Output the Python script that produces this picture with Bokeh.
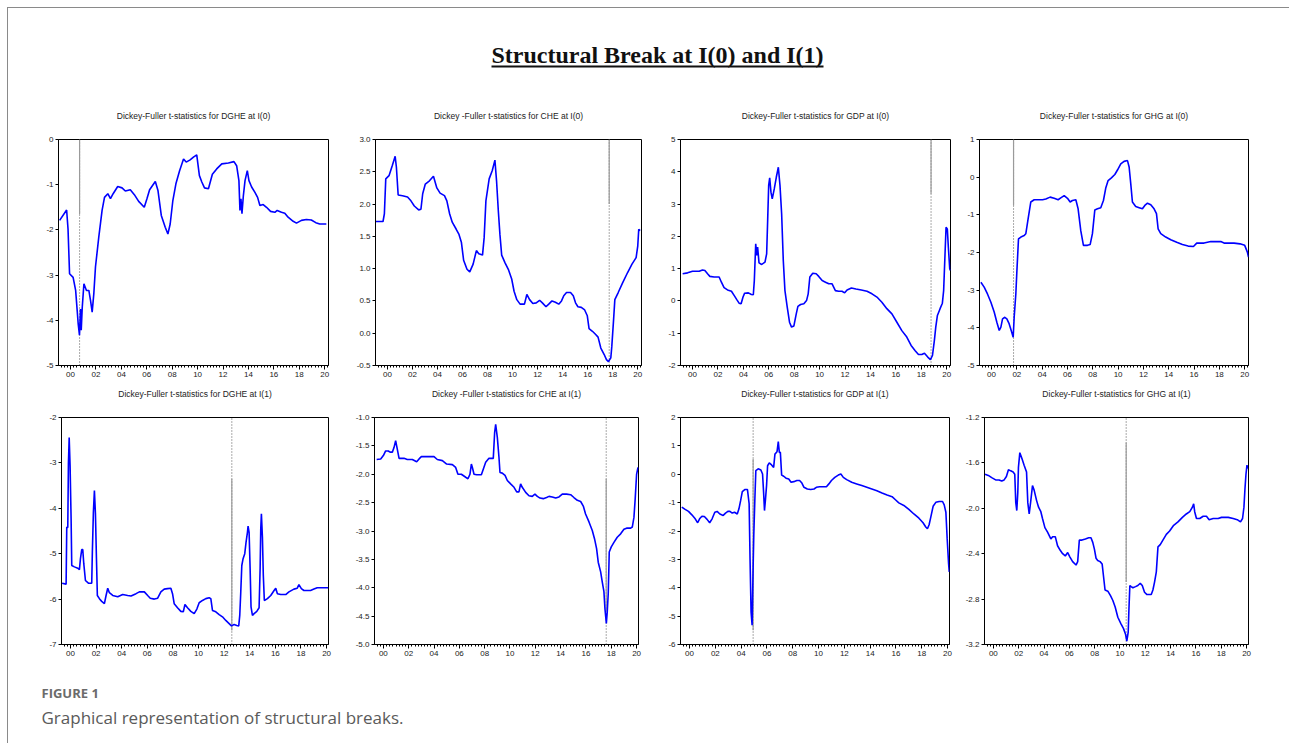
from bokeh.plotting import figure
from bokeh.layouts import column, row
from bokeh.models import Range1d, FixedTicker, PrintfTickFormatter, CustomJSTickFormatter
from bokeh.embed import file_html
from bokeh.resources import INLINE
from bokeh.core.properties import value
import numpy as np

# ---------------- data (year, t-statistic) ----------------
dghe_i0 = [(1999.14, -1.79), (1999.69, -1.56), (1999.8, -1.98), (1999.92, -2.97), (2000.2, -3.05),
           (2000.4, -3.34), (2000.52, -3.78), (2000.6, -4.08), (2000.7, -4.33), (2000.78, -3.75),
           (2000.84, -4.22), (2000.92, -3.71), (2001.05, -3.19), (2001.25, -3.34), (2001.44, -3.34),
           (2001.57, -3.56), (2001.7, -3.82), (2001.83, -3.41), (2001.96, -2.82), (2002.22, -2.16),
           (2002.48, -1.57), (2002.67, -1.28), (2002.93, -1.2), (2003.14, -1.31), (2003.35, -1.2),
           (2003.71, -1.04), (2004.05, -1.07), (2004.31, -1.14), (2004.7, -1.11), (2005.02, -1.22),
           (2005.36, -1.37), (2005.8, -1.5), (2006.01, -1.31), (2006.22, -1.11), (2006.67, -0.93),
           (2006.88, -1.13), (2007.14, -1.68), (2007.45, -1.94), (2007.66, -2.09), (2007.84, -1.87),
           (2008.05, -1.35), (2008.29, -0.98), (2008.58, -0.69), (2008.89, -0.43), (2009.1, -0.5),
           (2009.41, -0.45), (2009.67, -0.39), (2009.93, -0.34), (2010.14, -0.8), (2010.33, -0.94),
           (2010.54, -1.07), (2010.85, -1.09), (2011.16, -0.77), (2011.5, -0.65), (2011.9, -0.54),
           (2012.42, -0.52), (2012.86, -0.49), (2013.07, -0.58), (2013.25, -0.91), (2013.33, -1.57),
           (2013.41, -1.31), (2013.49, -1.64), (2013.6, -1.24), (2013.73, -0.91), (2013.91, -0.69),
           (2014.04, -0.91), (2014.25, -1.05), (2014.51, -1.17), (2014.72, -1.28), (2014.9, -1.46),
           (2015.16, -1.44), (2015.42, -1.5), (2015.74, -1.59), (2016.08, -1.61), (2016.26, -1.57),
           (2016.6, -1.61), (2016.86, -1.63), (2017.12, -1.72), (2017.52, -1.81), (2017.78, -1.85),
           (2018.17, -1.79), (2018.56, -1.77), (2018.95, -1.78), (2019.3, -1.84), (2019.61, -1.87),
           (2020.13, -1.87)]

che_i0 = [(1999.01, 1.73), (1999.65, 1.73), (1999.76, 1.85), (1999.87, 2.39), (2000.13, 2.44),
          (2000.4, 2.6), (2000.62, 2.74), (2000.72, 2.57), (2000.86, 2.14), (2001.21, 2.13),
          (2001.61, 2.11), (2001.88, 2.05), (2002.15, 1.97), (2002.5, 1.91), (2002.68, 1.92),
          (2002.82, 2.16), (2003.03, 2.31), (2003.36, 2.36), (2003.68, 2.43), (2003.95, 2.25),
          (2004.21, 2.17), (2004.56, 2.13), (2004.75, 2.05), (2004.97, 1.85), (2005.18, 1.72),
          (2005.5, 1.61), (2005.72, 1.53), (2005.91, 1.41), (2006.09, 1.13), (2006.36, 0.99),
          (2006.58, 0.95), (2006.85, 1.07), (2007.11, 1.28), (2007.3, 1.23), (2007.6, 1.21),
          (2007.73, 1.48), (2007.87, 2.05), (2008.13, 2.39), (2008.38, 2.52), (2008.59, 2.68),
          (2008.72, 2.36), (2008.86, 1.9), (2008.99, 1.53), (2009.13, 1.21), (2009.4, 1.09),
          (2009.66, 0.99), (2009.93, 0.84), (2010.12, 0.65), (2010.34, 0.52), (2010.6, 0.45),
          (2010.95, 0.45), (2011.14, 0.6), (2011.36, 0.52), (2011.62, 0.46), (2011.89, 0.47),
          (2012.16, 0.51), (2012.38, 0.47), (2012.67, 0.41), (2012.89, 0.45), (2013.15, 0.5),
          (2013.42, 0.48), (2013.69, 0.45), (2013.91, 0.5), (2014.09, 0.58), (2014.31, 0.63),
          (2014.63, 0.63), (2014.85, 0.58), (2015.03, 0.47), (2015.22, 0.41), (2015.49, 0.4),
          (2015.76, 0.36), (2015.97, 0.27), (2016.11, 0.07), (2016.38, 0.03), (2016.64, -0.02),
          (2016.83, -0.06), (2017.05, -0.23), (2017.32, -0.33), (2017.5, -0.41), (2017.66, -0.44),
          (2017.85, -0.38), (2017.93, -0.2), (2018.07, 0.21), (2018.17, 0.52), (2018.44, 0.63),
          (2018.79, 0.78), (2019.19, 0.94), (2019.54, 1.07), (2019.87, 1.17), (2020.0, 1.35),
          (2020.08, 1.61), (2020.19, 1.59)]

gdp_i0 = [(1999.22, 0.84), (1999.61, 0.87), (2000.0, 0.92), (2000.52, 0.92), (2000.78, 0.96),
          (2000.97, 0.94), (2001.18, 0.84), (2001.36, 0.76), (2001.7, 0.74), (2002.09, 0.74),
          (2002.27, 0.58), (2002.48, 0.41), (2002.75, 0.34), (2003.06, 0.3), (2003.27, 0.17),
          (2003.48, 0.04), (2003.66, -0.07), (2003.82, -0.09), (2003.97, 0.12), (2004.1, 0.24),
          (2004.39, 0.25), (2004.63, 0.2), (2004.78, 0.19), (2004.86, 0.63), (2004.97, 1.77),
          (2005.05, 1.41), (2005.12, 1.67), (2005.23, 1.18), (2005.44, 1.13), (2005.7, 1.2),
          (2005.83, 1.46), (2005.91, 2.49), (2005.99, 3.58), (2006.07, 3.81), (2006.17, 3.37),
          (2006.27, 3.16), (2006.43, 3.47), (2006.59, 3.83), (2006.75, 4.14), (2006.88, 3.58),
          (2007.01, 2.7), (2007.14, 1.25), (2007.27, 0.32), (2007.45, -0.19), (2007.63, -0.66),
          (2007.79, -0.81), (2007.97, -0.78), (2008.16, -0.4), (2008.29, -0.17), (2008.5, -0.11),
          (2008.76, -0.09), (2008.97, 0.01), (2009.1, 0.22), (2009.23, 0.74), (2009.46, 0.86),
          (2009.73, 0.84), (2009.93, 0.76), (2010.2, 0.63), (2010.46, 0.58), (2010.72, 0.53),
          (2010.98, 0.53), (2011.24, 0.32), (2011.5, 0.3), (2011.76, 0.3), (2011.97, 0.25),
          (2012.16, 0.34), (2012.5, 0.4), (2012.86, 0.37), (2013.28, 0.34), (2013.73, 0.3),
          (2014.12, 0.22), (2014.51, 0.12), (2014.9, -0.04), (2015.29, -0.24), (2015.69, -0.4),
          (2016.08, -0.66), (2016.47, -0.92), (2016.86, -1.12), (2017.2, -1.38), (2017.52, -1.54),
          (2017.78, -1.66), (2018.04, -1.66), (2018.25, -1.62), (2018.51, -1.74), (2018.72, -1.82),
          (2018.88, -1.69), (2019.03, -1.23), (2019.14, -0.81), (2019.27, -0.45), (2019.48, -0.24),
          (2019.66, -0.07), (2019.76, 0.32), (2019.87, 1.46), (2019.95, 2.28), (2020.05, 2.23),
          (2020.13, 1.67), (2020.24, 1.0), (2020.29, 0.94)]

ghg_i0 = [(1999.16, -2.79), (1999.42, -2.92), (1999.68, -3.1), (1999.95, -3.32), (2000.21, -3.58),
          (2000.42, -3.85), (2000.61, -4.07), (2000.74, -3.98), (2000.87, -3.76), (2001.05, -3.72),
          (2001.21, -3.76), (2001.39, -3.89), (2001.58, -4.1), (2001.71, -4.25), (2001.79, -3.72),
          (2001.92, -3.1), (2002.0, -2.52), (2002.13, -1.64), (2002.32, -1.59), (2002.58, -1.55),
          (2002.71, -1.5), (2002.89, -1.11), (2003.1, -0.66), (2003.37, -0.6), (2003.68, -0.6),
          (2004.03, -0.6), (2004.29, -0.58), (2004.63, -0.53), (2004.95, -0.56), (2005.26, -0.6),
          (2005.47, -0.55), (2005.74, -0.49), (2006.0, -0.56), (2006.21, -0.66), (2006.39, -0.62),
          (2006.66, -0.6), (2006.84, -0.84), (2007.05, -1.42), (2007.26, -1.81), (2007.58, -1.81),
          (2007.79, -1.79), (2007.97, -1.5), (2008.16, -0.87), (2008.37, -0.84), (2008.63, -0.81),
          (2008.84, -0.62), (2009.03, -0.28), (2009.21, -0.09), (2009.47, -0.02), (2009.74, 0.07),
          (2009.95, 0.19), (2010.21, 0.35), (2010.47, 0.42), (2010.74, 0.44), (2010.87, 0.27),
          (2011.0, -0.18), (2011.13, -0.66), (2011.39, -0.78), (2011.66, -0.81), (2011.92, -0.84),
          (2012.11, -0.75), (2012.32, -0.69), (2012.58, -0.73), (2012.84, -0.84), (2013.03, -0.97),
          (2013.16, -1.37), (2013.37, -1.5), (2013.76, -1.59), (2014.16, -1.66), (2014.63, -1.73),
          (2015.08, -1.79), (2015.53, -1.83), (2015.95, -1.84), (2016.21, -1.75), (2016.79, -1.75),
          (2017.32, -1.71), (2018.11, -1.71), (2018.37, -1.75), (2019.16, -1.75), (2019.63, -1.77),
          (2020.0, -1.81), (2020.21, -1.99), (2020.3, -2.12)]

dghe_i1 = [(1999.35, -5.65), (1999.66, -5.67), (1999.71, -4.42), (1999.79, -4.42), (1999.84, -3.02),
           (1999.9, -2.44), (1999.97, -3.06), (2000.05, -4.23), (2000.1, -5.26), (2000.31, -5.29),
           (2000.57, -5.32), (2000.7, -5.35), (2000.78, -5.11), (2000.88, -4.91), (2000.96, -4.91),
           (2001.04, -5.22), (2001.17, -5.59), (2001.4, -5.65), (2001.66, -5.65), (2001.71, -4.96),
           (2001.79, -4.09), (2001.87, -3.61), (2001.95, -4.12), (2002.03, -5.11), (2002.1, -5.92),
           (2002.26, -5.99), (2002.44, -6.05), (2002.65, -6.1), (2002.78, -5.92), (2002.91, -5.76),
           (2003.04, -5.86), (2003.3, -5.92), (2003.69, -5.95), (2004.08, -5.9), (2004.47, -5.92),
           (2004.73, -5.93), (2005.12, -5.88), (2005.38, -5.84), (2005.77, -5.84), (2006.03, -5.92),
           (2006.23, -5.98), (2006.55, -6.0), (2006.81, -5.98), (2007.06, -5.84), (2007.32, -5.78),
           (2007.58, -5.77), (2007.84, -5.76), (2007.97, -5.88), (2008.1, -6.1), (2008.36, -6.19),
           (2008.62, -6.27), (2008.81, -6.28), (2008.94, -6.12), (2009.14, -6.19), (2009.4, -6.27),
           (2009.66, -6.32), (2009.87, -6.22), (2010.05, -6.08), (2010.31, -6.03), (2010.57, -5.99),
           (2010.83, -5.97), (2010.96, -5.99), (2011.09, -6.25), (2011.35, -6.28), (2011.61, -6.34),
           (2011.87, -6.39), (2012.13, -6.47), (2012.39, -6.54), (2012.57, -6.59), (2012.78, -6.56),
           (2012.99, -6.58), (2013.14, -6.59), (2013.22, -6.36), (2013.3, -5.84), (2013.38, -5.26),
           (2013.48, -5.11), (2013.61, -5.0), (2013.71, -4.75), (2013.82, -4.53), (2013.87, -4.39),
           (2013.95, -4.53), (2014.03, -5.33), (2014.1, -6.17), (2014.21, -6.36), (2014.34, -6.32),
           (2014.55, -6.27), (2014.73, -6.19), (2014.81, -5.33), (2014.86, -4.45), (2014.91, -4.12),
           (2014.99, -4.64), (2015.06, -5.48), (2015.14, -6.03), (2015.38, -5.99), (2015.64, -5.92),
           (2015.9, -5.81), (2016.03, -5.76), (2016.16, -5.88), (2016.42, -5.9), (2016.81, -5.9),
           (2017.06, -5.84), (2017.45, -5.78), (2017.71, -5.76), (2017.84, -5.68), (2018.03, -5.77),
           (2018.23, -5.81), (2018.75, -5.81), (2019.01, -5.78), (2019.27, -5.75), (2020.13, -5.75)]

che_i1 = [(1999.47, -1.74), (1999.79, -1.73), (2000.0, -1.67), (2000.18, -1.59), (2000.39, -1.59),
          (2000.53, -1.61), (2000.71, -1.61), (2000.84, -1.53), (2000.97, -1.41), (2001.05, -1.5),
          (2001.24, -1.72), (2001.63, -1.72), (2001.89, -1.74), (2002.29, -1.74), (2002.63, -1.78),
          (2002.82, -1.73), (2003.0, -1.69), (2003.47, -1.69), (2004.0, -1.69), (2004.26, -1.74),
          (2004.66, -1.76), (2005.0, -1.82), (2005.45, -1.83), (2005.71, -1.88), (2005.89, -2.0),
          (2006.16, -2.0), (2006.42, -2.04), (2006.68, -2.08), (2006.84, -2.0), (2006.95, -1.82),
          (2007.03, -1.88), (2007.16, -2.0), (2007.37, -2.01), (2007.74, -2.01), (2007.89, -1.91),
          (2008.08, -1.79), (2008.34, -1.72), (2008.68, -1.72), (2008.79, -1.26), (2008.87, -1.12),
          (2009.0, -1.35), (2009.13, -1.7), (2009.21, -1.97), (2009.39, -1.98), (2009.61, -2.02),
          (2009.79, -2.11), (2010.05, -2.17), (2010.32, -2.23), (2010.53, -2.31), (2010.71, -2.31),
          (2010.84, -2.17), (2010.97, -2.23), (2011.24, -2.32), (2011.5, -2.38), (2011.76, -2.39),
          (2011.97, -2.35), (2012.16, -2.39), (2012.37, -2.42), (2012.63, -2.43), (2012.89, -2.41),
          (2013.08, -2.39), (2013.34, -2.4), (2013.61, -2.42), (2013.87, -2.4), (2014.13, -2.35),
          (2014.47, -2.35), (2014.79, -2.36), (2015.05, -2.41), (2015.32, -2.46), (2015.58, -2.48),
          (2015.79, -2.56), (2015.97, -2.7), (2016.24, -2.84), (2016.5, -2.99), (2016.68, -3.14),
          (2016.84, -3.31), (2016.97, -3.55), (2017.16, -3.72), (2017.29, -3.9), (2017.42, -4.07),
          (2017.5, -4.37), (2017.61, -4.63), (2017.68, -4.43), (2017.76, -4.1), (2017.84, -3.37),
          (2018.0, -3.28), (2018.21, -3.2), (2018.47, -3.11), (2018.74, -3.05), (2019.0, -2.97),
          (2019.21, -2.95), (2019.53, -2.95), (2019.66, -2.93), (2019.79, -2.76), (2019.89, -2.43),
          (2020.0, -2.0), (2020.11, -1.88)]

gdp_i1 = [(1999.4, -1.16), (1999.66, -1.24), (1999.92, -1.31), (2000.18, -1.43), (2000.44, -1.57),
          (2000.63, -1.71), (2000.78, -1.57), (2000.96, -1.48), (2001.15, -1.49), (2001.36, -1.59),
          (2001.56, -1.71), (2001.75, -1.57), (2001.96, -1.34), (2002.14, -1.31), (2002.35, -1.4),
          (2002.61, -1.45), (2002.79, -1.37), (2002.97, -1.31), (2003.13, -1.31), (2003.31, -1.37),
          (2003.49, -1.34), (2003.7, -1.4), (2003.83, -1.22), (2003.96, -0.93), (2004.09, -0.61),
          (2004.28, -0.54), (2004.49, -0.54), (2004.62, -1.04), (2004.69, -2.98), (2004.77, -4.85),
          (2004.85, -5.32), (2004.93, -3.27), (2004.98, -2.16), (2005.06, -0.93), (2005.14, 0.13),
          (2005.32, 0.19), (2005.53, 0.15), (2005.66, 0.01), (2005.74, -0.63), (2005.81, -1.28),
          (2005.89, -0.87), (2005.97, -0.4), (2006.05, 0.3), (2006.18, 0.4), (2006.36, 0.33),
          (2006.52, 0.24), (2006.62, 0.71), (2006.78, 0.79), (2006.88, 1.15), (2006.96, 0.77),
          (2007.04, 0.77), (2007.14, -0.03), (2007.3, -0.07), (2007.48, -0.14), (2007.69, -0.17),
          (2007.87, -0.28), (2008.08, -0.26), (2008.32, -0.22), (2008.53, -0.22), (2008.71, -0.31),
          (2008.87, -0.46), (2009.13, -0.52), (2009.39, -0.54), (2009.65, -0.52), (2009.83, -0.46),
          (2010.09, -0.44), (2010.35, -0.44), (2010.61, -0.44), (2010.8, -0.34), (2011.0, -0.22),
          (2011.26, -0.11), (2011.53, -0.03), (2011.73, 0.01), (2011.92, -0.11), (2012.18, -0.19),
          (2012.57, -0.28), (2012.96, -0.34), (2013.35, -0.4), (2013.74, -0.46), (2014.13, -0.52),
          (2014.52, -0.58), (2014.92, -0.66), (2015.31, -0.73), (2015.7, -0.79), (2015.96, -0.9),
          (2016.22, -1.01), (2016.61, -1.1), (2017.0, -1.24), (2017.39, -1.4), (2017.78, -1.55),
          (2018.1, -1.71), (2018.31, -1.86), (2018.44, -1.92), (2018.57, -1.78), (2018.7, -1.51),
          (2018.88, -1.13), (2019.09, -0.99), (2019.35, -0.96), (2019.61, -0.96), (2019.74, -1.08),
          (2019.87, -1.34), (2019.97, -2.27), (2020.08, -3.15), (2020.13, -3.44)]

ghg_i1 = [(1999.34, -1.7), (1999.6, -1.71), (1999.87, -1.73), (2000.18, -1.75), (2000.45, -1.75),
          (2000.66, -1.76), (2000.85, -1.75), (2001.03, -1.72), (2001.19, -1.66), (2001.37, -1.67),
          (2001.56, -1.68), (2001.69, -1.7), (2001.77, -1.95), (2001.85, -2.02), (2001.93, -1.86),
          (2001.98, -1.64), (2002.09, -1.51), (2002.25, -1.56), (2002.43, -1.62), (2002.62, -1.68),
          (2002.72, -1.95), (2002.83, -2.05), (2002.96, -1.93), (2003.09, -1.8), (2003.22, -1.84),
          (2003.41, -1.93), (2003.57, -1.99), (2003.75, -2.03), (2003.88, -2.09), (2004.07, -2.17),
          (2004.28, -2.21), (2004.54, -2.27), (2004.68, -2.25), (2004.89, -2.25), (2005.07, -2.33),
          (2005.28, -2.37), (2005.47, -2.4), (2005.68, -2.42), (2005.87, -2.39), (2006.05, -2.43),
          (2006.26, -2.47), (2006.53, -2.5), (2006.66, -2.47), (2006.79, -2.28), (2007.0, -2.28),
          (2007.27, -2.27), (2007.53, -2.26), (2007.71, -2.26), (2007.85, -2.3), (2007.98, -2.36),
          (2008.11, -2.44), (2008.24, -2.46), (2008.43, -2.47), (2008.59, -2.49), (2008.69, -2.59),
          (2008.82, -2.72), (2009.04, -2.73), (2009.25, -2.77), (2009.43, -2.81), (2009.62, -2.87),
          (2009.83, -2.96), (2010.09, -3.02), (2010.28, -3.06), (2010.44, -3.11), (2010.54, -3.17),
          (2010.65, -3.09), (2010.7, -2.91), (2010.78, -2.68), (2010.88, -2.69), (2011.02, -2.7),
          (2011.23, -2.69), (2011.41, -2.68), (2011.6, -2.66), (2011.76, -2.68), (2011.94, -2.74),
          (2012.13, -2.76), (2012.47, -2.76), (2012.6, -2.72), (2012.73, -2.65), (2012.87, -2.56),
          (2013.0, -2.34), (2013.18, -2.32), (2013.39, -2.28), (2013.66, -2.23), (2013.92, -2.2),
          (2014.24, -2.15), (2014.58, -2.12), (2014.93, -2.08), (2015.24, -2.05), (2015.51, -2.03),
          (2015.72, -1.99), (2015.82, -1.96), (2015.9, -2.03), (2016.04, -2.09), (2016.3, -2.09),
          (2016.57, -2.07), (2016.83, -2.07), (2017.04, -2.1), (2017.36, -2.09), (2017.75, -2.09),
          (2018.02, -2.08), (2018.55, -2.08), (2018.94, -2.09), (2019.26, -2.1), (2019.52, -2.12),
          (2019.68, -2.09), (2019.79, -1.99), (2019.87, -1.83), (2019.95, -1.7), (2020.03, -1.62),
          (2020.08, -1.65)]

series = [dghe_i0, che_i0, gdp_i0, ghg_i0, dghe_i1, che_i1, gdp_i1, ghg_i1]

panel_titles = [
    "Dickey-Fuller t-statistics for DGHE at I(0)",
    "Dickey -Fuller t-statistics for CHE at I(0)",
    "Dickey-Fuller t-statistics for GDP at I(0)",
    "Dickey-Fuller t-statistics for GHG at I(0)",
    "Dickey-Fuller t-statistics for DGHE at I(1)",
    "Dickey -Fuller t-statistics for CHE at I(1)",
    "Dickey-Fuller t-statistics for GDP at I(1)",
    "Dickey-Fuller t-statistics for GHG at I(1)",
]

# break dates and the span of the solid grey break marker
break_x = [2000.71, 2017.72, 2018.77, 2001.74, 2012.6, 2017.6, 2004.93, 2010.49]
break_solid_top = [0.0, 3.0, 5.0, 1.0, -3.35, -2.08, 0.54, -1.42]
break_solid_bottom = [-1.65, 2.0, 3.32, -0.75, -6.69, -4.4, -5.5, -2.65]

# y axes: min, max, step, label format
y_min = [-5, -0.5, -2, -5, -7, -5.0, -6, -3.2]
y_max = [0, 3.0, 5, 1, -2, -1.0, 2, -1.2]
y_step = [1, 0.5, 1, 1, 1, 0.5, 1, 0.4]
y_fmt = ["%d", "%.1f", "%d", "%d", "%d", "%.1f", "%d", "%.1f"]

x_label_years = list(range(2000, 2021, 2))
x_range_top = (1999.05, 2020.3)
x_range_bottom = (1999.3, 2020.15)

main_title = "Structural Break at I(0) and I(1)"
fig_label = "FIGURE 1"
fig_caption = "Graphical representation of structural breaks."

# ---------------- layout ----------------
W = 1281
col_w = [337, 315, 300, 329]
top_ml = [50, 30, 20, 19]
top_mr = [17, 19, 10, 41]
bot_ml = [53, 29, 20, 24]
bot_mr = [17, 22, 11, 41]
TOP_STRIP, BOT_STRIP = 20, 18
TOP_H, BOT_H = 260, 259
HDR_H, CAP_H = 97, 81

TICK_FONT = "Liberation Sans"


def blank_fig(width, height, ml=0, mr=0):
    f = figure(width=width, height=height, x_range=Range1d(0, 1), y_range=Range1d(height, 0),
               output_backend="svg", toolbar_location=None,
               min_border_left=ml, min_border_right=mr, min_border_top=0, min_border_bottom=0,
               background_fill_color="white", border_fill_color="white")
    f.axis.visible = False
    f.grid.visible = False
    f.outline_line_color = None
    return f


def title_strip(i, width, height, ml, mr):
    t = blank_fig(width, height, ml, mr)
    t.text(x=[0.5], y=[height - 10], text=[panel_titles[i]], text_font=value(TICK_FONT),
           text_font_size="8.5px", text_color="#222222",
           text_align="center", text_baseline="middle")
    return t


def make_panel(i, width, height, ml, mr, mt, mb, xr):
    pts = series[i]
    xs = [a for a, b in pts]
    ys = [b for a, b in pts]
    p = figure(width=width, height=height, x_range=Range1d(*xr),
               y_range=Range1d(y_min[i], y_max[i]),
               output_backend="svg", toolbar_location=None,
               min_border_left=ml, min_border_right=mr,
               min_border_top=mt, min_border_bottom=mb,
               background_fill_color="white", border_fill_color="white")
    p.xgrid.visible = False
    p.ygrid.visible = False
    p.outline_line_color = "black"
    p.outline_line_width = 1

    # break marker: dotted full height + partial solid grey
    p.segment(x0=[break_x[i]], y0=[y_min[i]], x1=[break_x[i]], y1=[y_max[i]],
              line_color="#555555", line_width=1, line_dash="1 2")
    p.segment(x0=[break_x[i]], y0=[break_solid_bottom[i]], x1=[break_x[i]],
              y1=[break_solid_top[i]], line_color="#9a9a9a", line_width=1.2)

    p.line(xs, ys, line_color="#0000ff", line_width=1.6)

    quarters = list(np.round(np.arange(1999.0, 2021.0, 0.25), 2))
    p.xaxis.ticker = FixedTicker(ticks=x_label_years, minor_ticks=quarters)
    p.xaxis.formatter = CustomJSTickFormatter(
        code="const y = Math.round(tick) % 100; return (y < 10 ? '0' : '') + y;")
    p.xaxis.major_tick_out = 4
    p.xaxis.major_tick_in = 0
    p.xaxis.minor_tick_out = 2
    p.xaxis.minor_tick_in = 0
    p.xaxis.major_label_standoff = 2

    n = int(round((y_max[i] - y_min[i]) / y_step[i]))
    yt = [round(y_min[i] + k * y_step[i], 2) for k in range(n + 1)]
    p.yaxis.ticker = FixedTicker(ticks=yt)
    p.yaxis.formatter = PrintfTickFormatter(format=y_fmt[i])
    p.yaxis.major_tick_out = 3
    p.yaxis.major_tick_in = 0
    p.yaxis.minor_tick_out = 0
    p.yaxis.minor_tick_in = 0
    p.yaxis.major_label_standoff = 2

    for ax in (p.xaxis, p.yaxis):
        ax.major_label_text_font = TICK_FONT
        ax.major_label_text_font_size = "8px"
        ax.major_label_text_color = "#222222"
        ax.axis_line_color = "black"
        ax.major_tick_line_color = "black"
        ax.minor_tick_line_color = "black"
    return p


top_cols = [column(title_strip(i, col_w[i], TOP_STRIP, top_ml[i], top_mr[i]),
                   make_panel(i, col_w[i], TOP_H, top_ml[i], top_mr[i], 14, 20, x_range_top))
            for i in range(4)]
bot_cols = [column(title_strip(i + 4, col_w[i], BOT_STRIP, bot_ml[i], bot_mr[i]),
                   make_panel(i + 4, col_w[i], BOT_H, bot_ml[i], bot_mr[i], 14, 18, x_range_bottom))
            for i in range(4)]

# header with the main title
hdr = figure(width=W, height=HDR_H, x_range=Range1d(0, W), y_range=Range1d(HDR_H, 0),
             output_backend="svg", toolbar_location=None, min_border=0,
             background_fill_color="white", border_fill_color="white")
hdr.axis.visible = False
hdr.grid.visible = False
hdr.outline_line_color = None
hdr.text(x=[649], y=[46], text=[main_title], text_font=value("Liberation Serif"),
         text_font_style="bold", text_font_size="24px", text_color="#111111",
         text_align="center", text_baseline="middle")
hdr.segment(x0=[483], y0=[58], x1=[815], y1=[58], line_color="#111111", line_width=2)

# caption
cap = figure(width=W, height=CAP_H, x_range=Range1d(0, W), y_range=Range1d(CAP_H, 0),
             output_backend="svg", toolbar_location=None, min_border=0,
             background_fill_color="white", border_fill_color="white")
cap.axis.visible = False
cap.grid.visible = False
cap.outline_line_color = None
cap.text(x=[33], y=[30], text=[fig_label], text_font=value("Open Sans"),
         text_font_style="bold", text_font_size="13px", text_color="#6b6b6b",
         text_align="left", text_baseline="middle")
cap.text(x=[33], y=[55], text=[fig_caption], text_font=value("Open Sans"),
         text_font_size="17px", text_color="#5a5a5a",
         text_align="left", text_baseline="middle")

layout = column(hdr, row(*top_cols), row(*bot_cols), cap,
                margin=(7, 0, 0, 7),
                styles={"border-top": "1px solid #8a8a8a", "border-left": "1px solid #8a8a8a"})

open("out.html", "w").write(file_html(layout, INLINE))
